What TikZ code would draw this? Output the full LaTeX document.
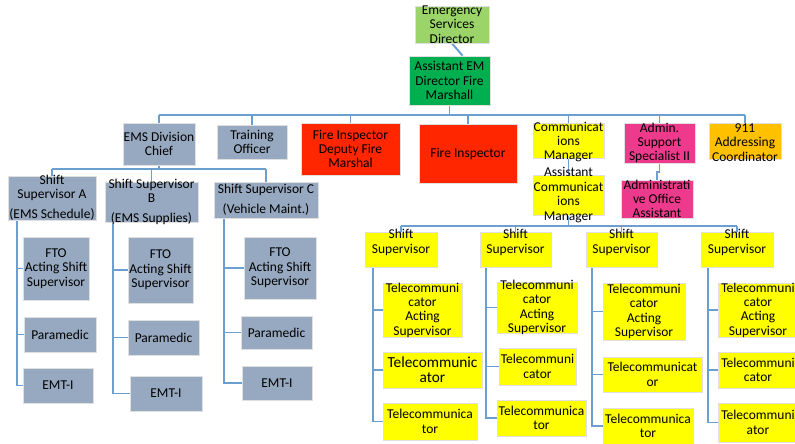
\documentclass[tikz,border=0pt]{standalone}
\usepackage{fontspec}
\setmainfont{Carlito}
\usepackage{tikz}
\usetikzlibrary{calc,backgrounds}
\definecolor{gblue}{HTML}{97A9C0}
\definecolor{lgreen}{HTML}{9BD56A}
\definecolor{dgreen}{HTML}{00B050}
\definecolor{fred}{HTML}{FF2600}
\definecolor{yel}{HTML}{FFFF00}
\definecolor{pnk}{HTML}{EE3A8C}
\definecolor{orng}{HTML}{FFC000}
\definecolor{linkblue}{HTML}{6A9FCF}

\begin{document}
\begin{tikzpicture}[x=0.025cm,y=-0.025cm,
    box/.style={draw=black!12,line width=0.6pt,inner sep=0pt},
    sz/.style 2 args={minimum width=#1*0.025cm,minimum height=#2*0.025cm},
    lbl/.style={align=center,inner sep=0pt,font=\fontsize{9.6}{10.2}\selectfont},
    big/.style={align=center,inner sep=0pt,font=\fontsize{10.9}{10.8}\selectfont},
    conn/.style={draw=linkblue,line width=1.4pt}]
  \useasboundingbox (0,0) rectangle (795,443);
  % top of the chart
  \node[box,fill=lgreen,sz={74}{37},label={[lbl]center:{Emergency\\Services\\Director}}] (esd) at (452,24.5) {};
  \node[box,fill=dgreen,sz={81}{49},label={[lbl]center:{Assistant EM\\Director Fire\\Marshall}}] (aemd) at (449.5,80.5) {};
  % second row
  \node[box,fill=gblue,sz={72}{42},label={[lbl]center:{EMS Division\\Chief}}] (emsc) at (159,144) {};
  \node[box,fill=gblue,sz={70}{34},label={[lbl]center:{Training\\Officer}}] (trn) at (252,142) {};
  \node[box,fill=fred,sz={99}{52},label={[lbl]center:{Fire Inspector\\Deputy Fire\\Marshal}}] (fid) at (350.5,149) {};
  \node[box,fill=fred,sz={98}{59},label={[lbl]center:{Fire Inspector}}] (fi) at (468,153.5) {};
  \node[box,fill=yel,sz={71}{35},label={[lbl,yshift=-1pt]center:{Communicat\\ions\\Manager}}] (cm) at (568.5,140.5) {};
  \node[box,fill=pnk,sz={71}{40},label={[lbl]center:{Admin.\\Support\\Specialist II}}] (adm) at (659.5,143) {};
  \node[box,fill=orng,sz={72}{36},label={[lbl,yshift=-1pt]center:{911\\Addressing\\Coordinator}}] (ac) at (745,141) {};
  \node[box,fill=yel,sz={71}{40},label={[lbl]center:{Assistant\\Communicat\\ions\\Manager}}] (acm) at (568.5,195) {};
  \node[box,fill=pnk,sz={72}{38},label={[lbl]center:{Administrati\\ve Office\\Assistant}}] (aoa) at (657,199) {};
  % EMS side
  \node[box,fill=gblue,sz={88}{44},label={[lbl]center:{Shift\\Supervisor A\\[4pt](EMS Schedule)}}] (ssa) at (52,198) {};
  \node[box,fill=gblue,sz={93}{40},label={[lbl]center:{Shift Supervisor\\B\\[4pt](EMS Supplies)}}] (ssb) at (151.5,202) {};
  \node[box,fill=gblue,sz={104}{36},label={[lbl]center:{Shift Supervisor C\\[4pt](Vehicle Maint.)}}] (ssc) at (266,200) {};
  \node[box,fill=gblue,sz={66}{63},label={[lbl]center:{FTO\\Acting Shift\\Supervisor}}] (ftoa) at (56,268.5) {};
  \node[box,fill=gblue,sz={72}{35},label={[lbl]center:{Paramedic}}] (para) at (60,334.5) {};
  \node[box,fill=gblue,sz={70}{35},label={[lbl]center:{EMT-I}}] (emta) at (58,385.5) {};
  \node[box,fill=gblue,sz={65}{66},label={[lbl]center:{FTO\\Acting Shift\\Supervisor}}] (ftob) at (160.5,270) {};
  \node[box,fill=gblue,sz={71}{35},label={[lbl]center:{Paramedic}}] (parb) at (163.5,337.5) {};
  \node[box,fill=gblue,sz={72}{35},label={[lbl]center:{EMT-I}}] (emtb) at (166,393.5) {};
  \node[box,fill=gblue,sz={72}{62},label={[lbl]center:{FTO\\Acting Shift\\Supervisor}}] (ftoc) at (280,268) {};
  \node[box,fill=gblue,sz={71}{33},label={[lbl]center:{Paramedic}}] (parc) at (276.5,332.5) {};
  \node[box,fill=gblue,sz={70}{34},label={[lbl]center:{EMT-I}}] (emtc) at (277,383) {};
  % communications side
  \node[box,fill=yel,sz={72}{35},label={[lbl,yshift=5pt]center:{Shift\\Supervisor}}] (ss1) at (401,249.5) {};
  \node[box,fill=yel,sz={71}{35},label={[lbl,yshift=5pt]center:{Shift\\Supervisor}}] (ss2) at (515.5,249.5) {};
  \node[box,fill=yel,sz={71}{35},label={[lbl,yshift=5pt]center:{Shift\\Supervisor}}] (ss3) at (621.5,249.5) {};
  \node[box,fill=yel,sz={72}{35},label={[lbl,yshift=5pt]center:{Shift\\Supervisor}}] (ss4) at (737,249.5) {};
  \node[box,fill=yel,sz={79}{54},label={[lbl]center:{Telecommuni\\cator\\Acting\\Supervisor}}] (t1a) at (422.5,310) {};
  \node[box,fill=yel,sz={99}{36},label={[big]center:{Telecommunic\\ator}}] (t1b) at (432.5,370) {};
  \node[box,fill=yel,sz={94}{37},label={[lbl]center:{Telecommunica\\tor}}] (t1c) at (430,421.5) {};
  \node[box,fill=yel,sz={80}{51},label={[lbl]center:{Telecommuni\\cator\\Acting\\Supervisor}}] (t2a) at (537,307.5) {};
  \node[box,fill=yel,sz={77}{37},label={[lbl]center:{Telecommuni\\cator}}] (t2b) at (537.5,366.5) {};
  \node[box,fill=yel,sz={89}{36},label={[lbl]center:{Telecommunica\\tor}}] (t2c) at (541.5,418) {};
  \node[box,fill=yel,sz={82}{57},label={[lbl]center:{Telecommuni\\cator\\Acting\\Supervisor}}] (t3a) at (644,311.5) {};
  \node[box,fill=yel,sz={99}{35},label={[lbl]center:{Telecommunicat\\or}}] (t3b) at (652.5,374.5) {};
  \node[box,fill=yel,sz={90}{36},label={[lbl]center:{Telecommunica\\tor}}] (t3c) at (648,426) {};
  \node[box,fill=yel,sz={80}{54},label={[lbl]center:{Telecommuni\\cator\\Acting\\Supervisor}}] (t4a) at (758,310) {};
  \node[box,fill=yel,sz={80}{36},label={[lbl]center:{Telecommuni\\cator}}] (t4b) at (758,370) {};
  \node[box,fill=yel,sz={80}{39},label={[lbl]center:{Telecommuni\\ator}}] (t4c) at (758,422.5) {};
  % connectors, kept behind the boxes
  \begin{pgfonlayer}{background}
  \coordinate (bus1) at (0,115);
  \coordinate (bus2) at (0,169);
  \coordinate (bus3) at (0,226);
  \draw[conn] (esd.south) -- ($(aemd.north)+(13,0)$);
  \draw[conn] (aemd.south) -- (aemd.south |- bus1);
  \draw[conn] (emsc.north |- bus1) -- (ac.north |- bus1);
  \foreach \n in {emsc,trn,fid,fi,cm,adm,ac}
    \draw[conn] (\n.north) -- (\n.north |- bus1);
  \draw[conn] (cm.south) -- (acm.north);
  \draw[conn] (adm.south) -- ++(0,9) -| (aoa.north);
  \draw[conn] (emsc.south) -- (emsc.south |- bus2);
  \draw[conn] (ssa.north |- bus2) -- (ssc.north |- bus2);
  \foreach \n in {ssa,ssb,ssc}
    \draw[conn] (\n.north) -- (\n.north |- bus2);
  \draw[conn] (acm.south) -- (acm.south |- bus3);
  \draw[conn] (ss1.north |- bus3) -- (ss4.north |- bus3);
  \foreach \n in {ss1,ss2,ss3,ss4}
    \draw[conn] (\n.north) -- (\n.north |- bus3);
  \draw[conn] ($(ssa.south west)+(9,0)$) coordinate (va) |- (ftoa.west) (va) |- (para.west) (va) |- (emta.west);
  \draw[conn] ($(ssb.south west)+(8,0)$) coordinate (vb) |- (ftob.west) (vb) |- (parb.west) (vb) |- (emtb.west);
  \draw[conn] ($(ssc.south west)+(10,0)$) coordinate (vc) |- (ftoc.west) (vc) |- (parc.west) (vc) |- (emtc.west);
  \draw[conn] ($(ss1.south west)+(8,0)$) coordinate (v1) |- (t1a.west) (v1) |- (t1b.west) (v1) |- (t1c.west);
  \draw[conn] ($(ss2.south west)+(6,0)$) coordinate (v2) |- (t2a.west) (v2) |- (t2b.west) (v2) |- (t2c.west);
  \draw[conn] ($(ss3.south west)+(6,0)$) coordinate (v3) |- (t3a.west) (v3) |- (t3b.west) (v3) |- (t3c.west);
  \draw[conn] ($(ss4.south west)+(7,0)$) coordinate (v4) |- (t4a.west) (v4) |- (t4b.west) (v4) |- (t4c.west);
  \end{pgfonlayer}
\end{tikzpicture}
\end{document}
